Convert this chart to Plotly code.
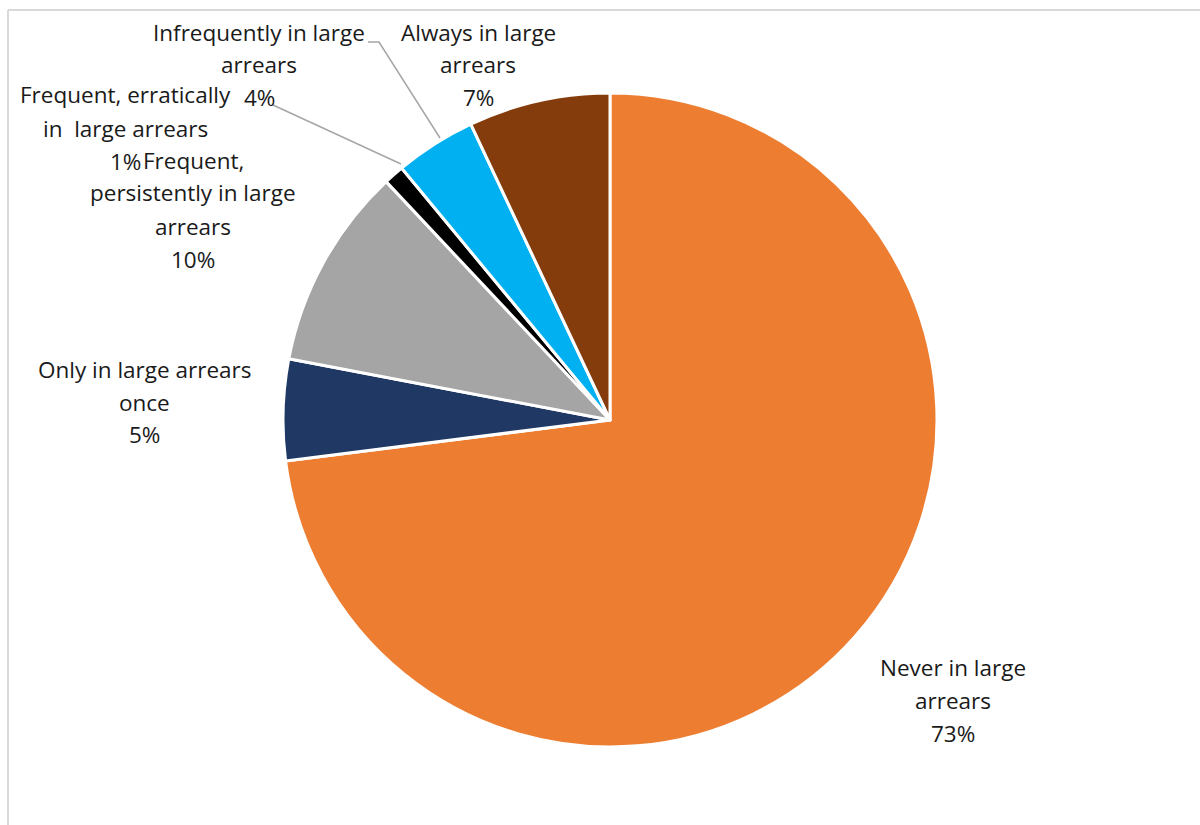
import plotly.graph_objects as go

# Share of customers by arrears pattern
categories = [
    "Never in large arrears",
    "Only in large arrears once",
    "Frequent, persistently in large arrears",
    "Frequent, erratically in  large arrears",
    "Infrequently in large arrears",
    "Always in large arrears",
]
values = [73, 5, 10, 1, 4, 7]
label_lines = [
    ["Never in large", "arrears"],
    ["Only in large arrears", "once"],
    ["Frequent,", "persistently in large", "arrears"],
    ["Frequent, erratically", "in  large arrears"],
    ["Infrequently in large", "arrears"],
    ["Always in large", "arrears"],
]
colors = ["#ED7D31", "#203864", "#A5A5A5", "#000000", "#00B0F0", "#843C0C"]

W, H = 1200, 825


def px(x):
    return x / W


def py(y):
    return 1 - y / H


# pie placement (pixel centre and radius)
cx, cy, r = 610, 420, 327

fig = go.Figure(
    go.Pie(
        labels=categories,
        values=values,
        sort=False,
        direction="clockwise",
        rotation=0,
        textinfo="none",
        hoverinfo="label+percent",
        marker=dict(colors=colors, line=dict(color="white", width=3)),
        domain=dict(x=[px(cx - r), px(cx + r)], y=[py(cy + r), py(cy - r)]),
        showlegend=False,
    )
)

# label anchors: centre x and first-line y in pixels
label_pos = [(953, 667), (144, 369), (193, 160), (125, 95), (259, 32), (478, 32)]
line_gap = 33
font = dict(family="Open Sans, sans-serif", size=22.5, color="#1a1a1a")

annotations = []
for lines, val, (lx, ly) in zip(label_lines, values, label_pos):
    for i, t in enumerate(lines + [f"{val}%"]):
        annotations.append(
            dict(
                x=px(lx), y=py(ly + i * line_gap), xref="paper", yref="paper",
                text=t, showarrow=False, xanchor="center", yanchor="middle",
                font=font,
            )
        )

leader = dict(color="#A6A6A6", width=1.5)
shapes = [
    # chart-area border (left and top edges)
    dict(type="line", xref="paper", yref="paper", x0=px(8), y0=py(10), x1=px(8), y1=-0.01,
         line=dict(color="#D9D9D9", width=2)),
    dict(type="line", xref="paper", yref="paper", x0=px(8), y0=py(10), x1=1.01, y1=py(10),
         line=dict(color="#D9D9D9", width=2)),
    # leader lines
    dict(type="path", xref="paper", yref="paper",
         path=f"M {px(368)},{py(42)} L {px(379)},{py(42)} L {px(440)},{py(138)}",
         line=leader),
    dict(type="line", xref="paper", yref="paper", x0=px(273), y0=py(105), x1=px(401), y1=py(164),
         line=leader),
]

fig.update_layout(
    width=W, height=H,
    margin=dict(l=0, r=0, t=0, b=0),
    paper_bgcolor="white", plot_bgcolor="white",
    annotations=annotations, shapes=shapes,
)

fig.write_html("out.html")
